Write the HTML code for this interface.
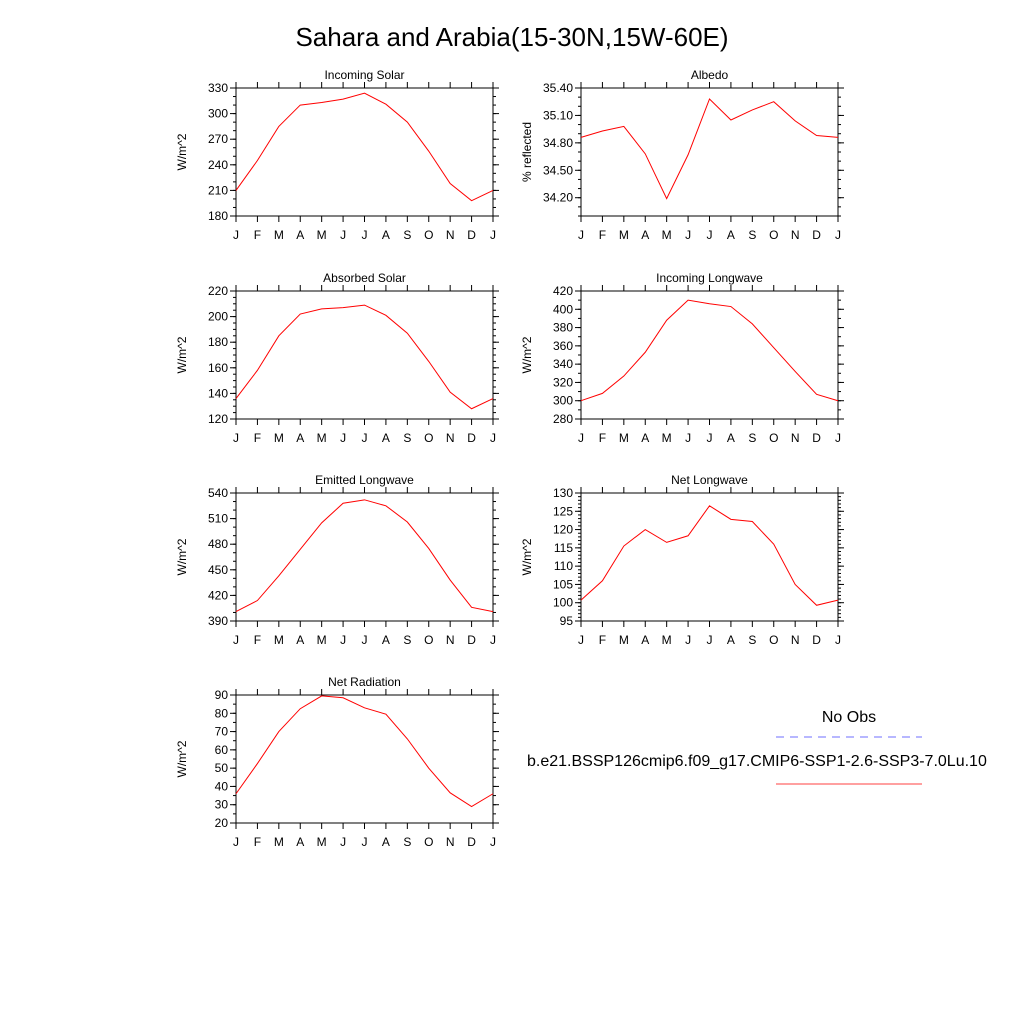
<!DOCTYPE html>
<html><head><meta charset="utf-8"><style>
body{margin:0;background:#fff;width:1024px;height:1024px;overflow:hidden}
text{font-family:"Liberation Sans",sans-serif;fill:#000}
</style></head><body>
<svg id="c" width="1024" height="1024">
<text x="512" y="46" font-size="26" text-anchor="middle">Sahara and Arabia(15-30N,15W-60E)</text>
<g id="legend">
<text x="849" y="722" font-size="16" text-anchor="middle">No Obs</text>
<line x1="776" y1="737" x2="922" y2="737" stroke="#6f6fff" stroke-dasharray="8,6"/>
<text x="527" y="766" font-size="16">b.e21.BSSP126cmip6.f09_g17.CMIP6-SSP1-2.6-SSP3-7.0Lu.10</text>
<line x1="776" y1="784" x2="922" y2="784" stroke="#ff4040"/>
</g>
</svg>
<script>
const months=["J","F","M","A","M","J","J","A","S","O","N","D","J"];
const incomingSolar=[210,245,285,310,313,317,324,311,290,256,218,198,210];
const albedo=[34.86,34.93,34.98,34.68,34.19,34.67,35.28,35.05,35.16,35.25,35.04,34.88,34.86];
const absorbedSolar=[136,158,185,202,206,207,209,201,187,165,141,128,136];
const incomingLW=[300,308,327,353,388,410,406,403,384,358,332,307,300];
const emittedLW=[401,414,443,474,505,528,532,525,506,475,438,406,401];
const netLW=[100.7,106,115.5,120,116.5,118.3,126.5,122.8,122.2,116,105,99.3,100.7];
const netRad=[36,52.5,70,82.5,89.5,88.5,83,79.5,66,50,36.5,29,36];
const ticksIS=[180,210,240,270,300,330];
const ticksAl=[34.2,34.5,34.8,35.1,35.4];
const ticksAS=[120,140,160,180,200,220];
const ticksIL=[280,300,320,340,360,380,400,420];
const ticksEL=[390,420,450,480,510,540];
const ticksNL=[95,100,105,110,115,120,125,130];
const ticksNR=[20,30,40,50,60,70,80,90];
const NS="http://www.w3.org/2000/svg";
const svg=document.getElementById('c');
function mk(tag,attrs,parent){const e=document.createElementNS(NS,tag);for(const k in attrs)e.setAttribute(k,attrs[k]);parent.appendChild(e);return e;}
function panel(name,title,ylabel,x0,y0,vals,ymin,ymax,ticks,dec,minorStep){
 const w=257,h=128;
 const g=mk('g',{},svg);
 
 
 const X=i=>x0+i*w/12, Y=v=>y0+h-(v-ymin)/(ymax-ymin)*h;
 const r=mk('rect',{x:x0,y:y0,width:w,height:h,fill:'none',stroke:'#000','stroke-width':1},g);
 
 
 const t=mk('text',{x:x0+w/2,y:y0-9,'font-size':12,'text-anchor':'middle'},g);
 
 
 t.textContent=title;
 const yl=mk('text',{x:0,y:0,'font-size':12,'text-anchor':'middle',transform:`translate(${x0-50},${y0+h/2}) rotate(-90)`},g);
 
 
 yl.textContent=ylabel;
 months.forEach((m,i)=>{
  mk('line',{x1:X(i),x2:X(i),y1:y0+h,y2:y0+h+6,stroke:'#000'},g);
  mk('line',{x1:X(i),x2:X(i),y1:y0,y2:y0-6,stroke:'#000'},g);
  const tl=mk('text',{x:X(i),y:y0+h+23,'font-size':12,'text-anchor':'middle'},g);
  
  
  tl.textContent=m;
 });
 for(let v=ymin;v<=ymax+1e-9;v+=minorStep){
  mk('line',{x1:x0,x2:x0-3,y1:Y(v),y2:Y(v),stroke:'#000'},g);
  mk('line',{x1:x0+w,x2:x0+w+3,y1:Y(v),y2:Y(v),stroke:'#000'},g);
 }
 ticks.forEach(v=>{
  mk('line',{x1:x0,x2:x0-6,y1:Y(v),y2:Y(v),stroke:'#000'},g);
  mk('line',{x1:x0+w,x2:x0+w+6,y1:Y(v),y2:Y(v),stroke:'#000'},g);
  const tl=mk('text',{x:x0-8,y:Y(v)+4,'font-size':12,'text-anchor':'end'},g);
  
  
  tl.textContent=v.toFixed(dec);
 });
 const p=mk('polyline',{points:vals.map((v,i)=>X(i)+','+Y(v)).join(' '),fill:'none',stroke:'#ff0000','stroke-width':1},g);
 
 
}
panel('incoming-solar-panel','Incoming Solar','W/m^2',236,88,incomingSolar,180,330,ticksIS,0,10);
panel('albedo-panel','Albedo','% reflected',581,88,albedo,34.0,35.4,ticksAl,2,0.1);
panel('absorbed-solar-panel','Absorbed Solar','W/m^2',236,291,absorbedSolar,120,220,ticksAS,0,5);
panel('incoming-longwave-panel','Incoming Longwave','W/m^2',581,291,incomingLW,280,420,ticksIL,0,10);
panel('emitted-longwave-panel','Emitted Longwave','W/m^2',236,493,emittedLW,390,540,ticksEL,0,10);
panel('net-longwave-panel','Net Longwave','W/m^2',581,493,netLW,95,130,ticksNL,0,1);
panel('net-radiation-panel','Net Radiation','W/m^2',236,695,netRad,20,90,ticksNR,0,5);
</script>
</body></html>
